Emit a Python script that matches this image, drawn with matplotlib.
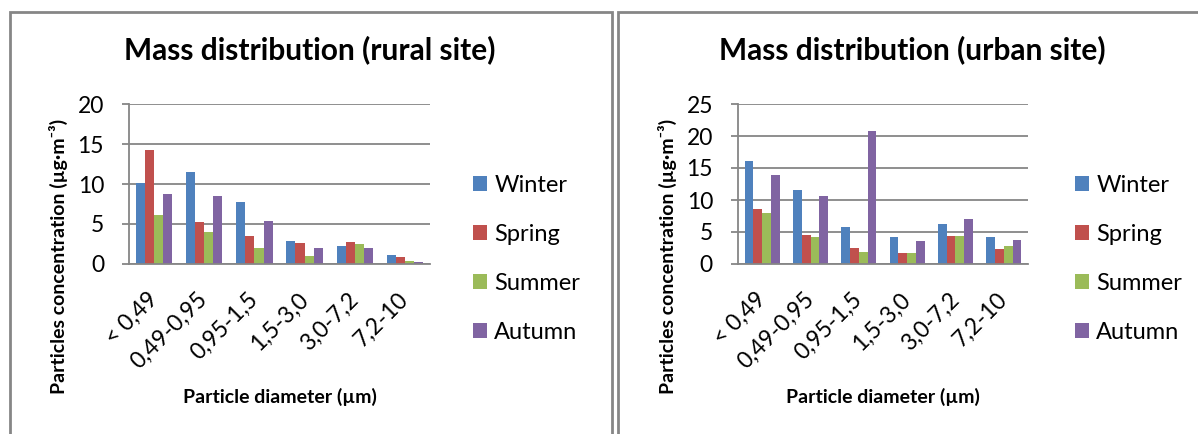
import matplotlib.pyplot as plt
import numpy as np
from matplotlib.patches import Rectangle

W, H = 1198, 434

categories = ["< 0,49", "0,49-0,95", "0,95-1,5", "1,5-3,0", "3,0-7,2", "7,2-10"]
seasons = ["Winter", "Spring", "Summer", "Autumn"]

# concentrations, µg/m3
rural_winter = [10.1, 11.45, 7.7, 2.85, 2.3, 1.1]
rural_spring = [14.25, 5.3, 3.5, 2.6, 2.75, 0.9]
rural_summer = [6.1, 4.05, 2.05, 0.95, 2.45, 0.4]
rural_autumn = [8.8, 8.5, 5.4, 1.95, 2.0, 0.3]

urban_winter = [16.15, 11.5, 5.8, 4.15, 6.25, 4.15]
urban_spring = [8.55, 4.6, 2.45, 1.7, 4.3, 2.4]
urban_summer = [7.9, 4.15, 1.8, 1.7, 4.3, 2.8]
urban_autumn = [13.9, 10.55, 20.8, 3.65, 7.0, 3.75]

colors = ["#4F81BD", "#C0504D", "#9BBB59", "#8064A2"]
grey = "#868686"

plt.rcParams["font.family"] = ["Lato", "DejaVu Sans"]


def px_axes(fig, x0, y0, x1, y1):
    return fig.add_axes([x0 / W, 1 - y1 / H, (x1 - x0) / W, (y1 - y0) / H])


def panel(fig, box, frame, title, title_x, ylab_x, legend_x, series, ymax):
    # chart border
    fig.add_artist(Rectangle((frame[0] / W, -0.1), (frame[1] - frame[0]) / W, 1.1 - 12 / H,
                             transform=fig.transFigure, fill=False, edgecolor=grey, lw=2))
    ax = px_axes(fig, *box)
    x = np.arange(len(categories))
    width = 0.727 / 4
    for i, (vals, name) in enumerate(zip(series, seasons)):
        ax.bar(x + (i - 1.5) * width, vals, width=width, color=colors[i], label=name, zorder=2)

    ax.set_xlim(-0.5, len(categories) - 0.5)
    ax.set_ylim(0, ymax)
    ax.set_yticks(np.arange(0, ymax + 1, 5))
    ax.yaxis.grid(True, color=grey, lw=1.3)
    ax.set_axisbelow(True)
    for s in ["top", "right"]:
        ax.spines[s].set_visible(False)
    for s in ["left", "bottom"]:
        ax.spines[s].set_color(grey)
        ax.spines[s].set_linewidth(1.3)
    ax.tick_params(axis="y", length=5, width=1.3, color=grey, pad=13, labelsize=16.5)
    ax.set_xticks(x)
    ax.set_xticklabels(categories, rotation=45, ha="right", va="center",
                       rotation_mode="anchor", fontsize=16.5)
    ax.tick_params(axis="x", length=0, pad=23)

    fig.text(title_x / W, 1 - 50 / H, title, ha="center", va="center",
             fontsize=21.5, fontweight="bold")
    fig.text(ylab_x / W, 1 - 256 / H, "Particles concentration (µg·m⁻³)", rotation=90,
             ha="center", va="center", fontsize=14, fontweight="bold")
    fig.text((box[0] + box[2]) / 2 / W, 1 - 397 / H, "Particle diameter (µm)",
             ha="center", va="center", fontsize=14, fontweight="bold")
    ax.legend(loc="center left", bbox_to_anchor=(legend_x / W, 1 - 259 / H),
              bbox_transform=fig.transFigure, frameon=False, fontsize=17,
              handlelength=0.6, handleheight=0.6, handletextpad=0.3,
              labelspacing=1.19, borderpad=0, borderaxespad=0)
    return ax


fig = plt.figure(figsize=(W / 100, H / 100), dpi=100)

panel(fig, (129, 104, 430, 264), (10, 612), "Mass distribution (rural site)", 310, 58, 473,
      [rural_winter, rural_spring, rural_summer, rural_autumn], 20)
panel(fig, (738, 104, 1028, 264), (618, 1210), "Mass distribution (urban site)", 912, 667, 1075,
      [urban_winter, urban_spring, urban_summer, urban_autumn], 25)

fig.savefig("out.png", dpi=100)
